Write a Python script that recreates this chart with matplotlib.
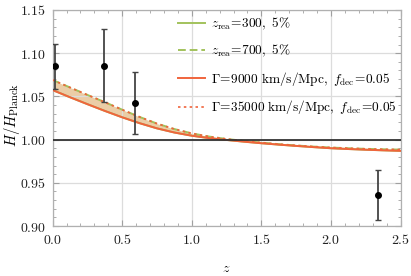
import matplotlib
matplotlib.use("Agg")
import matplotlib.pyplot as plt
from matplotlib.ticker import MultipleLocator, FuncFormatter

plt.rcParams["mathtext.fontset"] = "cm"

# measurements
z_obs = [0.02, 0.37, 0.59, 2.34]
h_obs = [1.0846, 1.0857, 1.0422, 0.9363]
h_err = [0.026, 0.042, 0.036, 0.029]

# model curves
z_grid = [0.0, 0.125, 0.25, 0.375, 0.5, 0.625, 0.75, 0.875, 1.0, 1.125, 1.25,
          1.375, 1.5, 1.625, 1.75, 1.875, 2.0, 2.125, 2.25, 2.375, 2.5]
h_upper = [1.0690, 1.0603, 1.0517, 1.0433, 1.0346, 1.0262, 1.0185, 1.0122,
           1.0072, 1.0035, 1.0007, 0.9985, 0.9965, 0.9947, 0.9932, 0.9919,
           0.9908, 0.9900, 0.9893, 0.9888, 0.9884]
h_lower = [1.0573, 1.0490, 1.0410, 1.0332, 1.0258, 1.0190, 1.0130, 1.0082,
           1.0045, 1.0017, 0.9996, 0.9976, 0.9958, 0.9942, 0.9927, 0.9913,
           0.9900, 0.9891, 0.9883, 0.9876, 0.9870]

green = "#a2c25c"
orange = "#f0643c"

fig = plt.figure(figsize=(4.11, 2.76), dpi=100)
ax = fig.add_axes([0.128, 0.181, 0.8465, 0.783])

ax.fill_between(z_grid, h_lower, h_upper, color="#ebcda6", lw=0, zorder=1)
ax.plot(z_grid, h_lower, color=green, lw=1.4, zorder=2,
        label=r"$z_{\rm rea}\!=\!300,\ 5\%$")
ax.plot(z_grid, h_upper, color=green, lw=1.4, ls=(0, (4, 2)), zorder=2,
        label=r"$z_{\rm rea}\!=\!700,\ 5\%$")
ax.plot(z_grid, h_lower, color=orange, lw=1.4, zorder=3,
        label=r"$\Gamma\!=\!9000\ {\rm km/s/Mpc},\ f_{\rm dec}\!=\!0.05$")
ax.plot(z_grid, h_upper, color=orange, lw=1.2, ls=(0, (1.5, 2)), zorder=3,
        label=r"$\Gamma\!=\!35000\ {\rm km/s/Mpc},\ f_{\rm dec}\!=\!0.05$")

ax.axhline(1.0, color="#333333", lw=1.3, zorder=4)

ax.errorbar(z_obs, h_obs, yerr=h_err, fmt="o", color="black", ms=4,
            ecolor="#444444", elinewidth=1.3, capsize=2.2, capthick=1.0, zorder=5)

ax.set_xlim(0, 2.5)
ax.set_ylim(0.90, 1.15)
ax.xaxis.set_major_locator(MultipleLocator(0.5))
ax.xaxis.set_minor_locator(MultipleLocator(0.1))
ax.yaxis.set_major_locator(MultipleLocator(0.05))
ax.yaxis.set_minor_locator(MultipleLocator(0.01))
ax.xaxis.set_major_formatter(FuncFormatter(lambda v, p: f"${v:.1f}$"))
ax.yaxis.set_major_formatter(FuncFormatter(lambda v, p: f"${v:.2f}$"))

ax.grid(True, which="major", color="#dcdcdc", lw=0.9, zorder=0)
for s in ax.spines.values():
    s.set_color("#b0b0b0")
    s.set_linewidth(0.9)
ax.tick_params(which="both", direction="in", top=True, right=True,
               color="#a0a0a0", labelsize=10, labelcolor="#222222")
ax.tick_params(which="major", length=4, pad=5)
ax.tick_params(which="minor", length=2)

ax.set_xlabel(r"$z$", fontsize=10)
ax.xaxis.set_label_coords(0.5, -0.16)
ax.set_ylabel(r"$H/H_{\rm Planck}$", fontsize=10.5)
ax.yaxis.set_label_coords(-0.088, 0.514)

ax.legend(loc="upper left", bbox_to_anchor=(0.36, 0.972), frameon=False,
          fontsize=9.6, handlelength=2.0, handletextpad=0.5,
          labelspacing=0.8, borderpad=0, borderaxespad=0)

fig.savefig("out.png", dpi=100)
